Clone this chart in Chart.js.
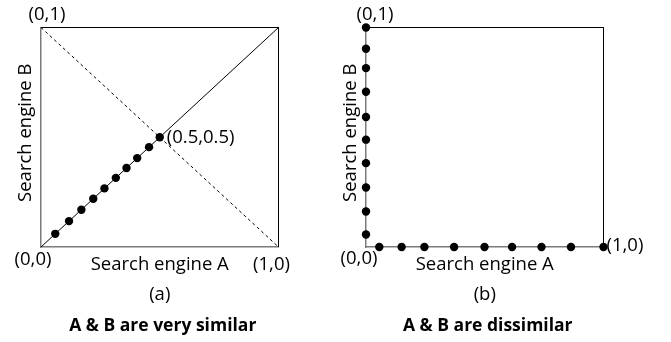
<!DOCTYPE html>
<html>
<head>
<meta charset="utf-8">
<script src="https://cdn.jsdelivr.net/npm/chart.js@4/dist/chart.umd.min.js"></script>
<style>
  html, body { margin: 0; padding: 0; background: #fff; }
  #wrap { position: relative; width: 671px; height: 342px; overflow: hidden; }
  canvas { position: absolute; top: 0; }
</style>
</head>
<body>
<div id="wrap">
  <canvas id="chartA" width="330" height="342" style="left:0"></canvas>
  <canvas id="chartB" width="341" height="342" style="left:330px"></canvas>
</div>
<script>
// Panel (a): both engines give matching scores, so points lie on the diagonal
const similarA = [0.06, 0.118, 0.17, 0.22, 0.267, 0.315, 0.36, 0.405, 0.455, 0.5];
const similarB = [0.06, 0.118, 0.17, 0.22, 0.267, 0.315, 0.36, 0.405, 0.455, 0.5];

// Panel (b): each engine scores what the other ignores, so points lie on the axes
const onAxisB = [1.0, 0.903, 0.815, 0.707, 0.592, 0.489, 0.382, 0.271, 0.162, 0.057]; // engine A = 0
const onAxisA = [0.056, 0.15, 0.246, 0.371, 0.499, 0.615, 0.739, 0.863, 1.0];         // engine B = 0

// Frame and reference lines (unit square corners)
const frameTopRight = [[0, 1], [1, 1], [1, 0]];
const agreeLine = [[0, 0], [1, 1]];
const oppositeLine = [[0, 1], [1, 0]];

// Text
const xTitle = 'Search engine A';
const yTitle = 'Search engine B';
const panelTags = ['(a)', '(b)'];
const panelCaptions = ['A & B are very similar', 'A & B are dissimilar'];
const cornerLabelsA = [
  { at: [0, 1], text: '(0,1)', dx: 6, dy: -13, align: 'center' },
  { at: [0, 0], text: '(0,0)', dx: -8, dy: 13, align: 'center' },
  { at: [1, 0], text: '(1,0)', dx: -7, dy: 18, align: 'center' },
  { at: [0.5, 0.5], text: '(0.5,0.5)', dx: 7, dy: 0, align: 'left' }
];
const cornerLabelsB = [
  { at: [0, 1], text: '(0,1)', dx: 9, dy: -13, align: 'center' },
  { at: [0, 0], text: '(0,0)', dx: -7, dy: 12, align: 'center' },
  { at: [1, 0], text: '(1,0)', dx: 3, dy: -1, align: 'left' }
];

const FONT = '"Open Sans", Lato, sans-serif';
const toXY = pairs => pairs.map(([x, y]) => ({ x, y }));

function annotate(labels, tag, caption) {
  return {
    id: 'annotate',
    afterDraw(chart) {
      const { ctx, chartArea: a, scales: { x, y } } = chart;
      ctx.save();
      ctx.fillStyle = '#000';
      ctx.textBaseline = 'middle';
      ctx.font = '18.5px ' + FONT;
      labels.forEach(l => {
        ctx.textAlign = l.align;
        ctx.fillText(l.text, x.getPixelForValue(l.at[0]) + l.dx, y.getPixelForValue(l.at[1]) + l.dy);
      });
      const cx = (a.left + a.right) / 2;
      ctx.textAlign = 'center';
      ctx.fillText(xTitle, cx, a.bottom + 18);
      ctx.fillText(tag, cx, a.bottom + 48);
      ctx.font = 'bold 17.5px ' + FONT;
      ctx.fillText(caption, cx + 3, a.bottom + 79);
      ctx.font = '18.5px ' + FONT;
      ctx.translate(a.left - 15, (a.top + a.bottom) / 2 - 4.5);
      ctx.rotate(-Math.PI / 2);
      ctx.fillText(yTitle, 0, 0);
      ctx.restore();
    }
  };
}

function axisOptions() {
  return {
    type: 'linear', min: 0, max: 1,
    grid: { display: false, drawTicks: false },
    ticks: { display: false },
    border: { display: true, color: '#7a7a7a', width: 1.5 }
  };
}

function baseOptions(padding) {
  return {
    responsive: false,
    animation: false,
    layout: { padding, autoPadding: false },
    plugins: { legend: { display: false }, tooltip: { enabled: false } },
    scales: { x: axisOptions(), y: axisOptions() }
  };
}

const dotStyle = { type: 'scatter', pointRadius: 4.2, pointBackgroundColor: '#000', pointBorderWidth: 0, showLine: false, clip: false };
const lineStyle = { type: 'line', borderColor: '#000', borderWidth: 1, pointRadius: 0, fill: false, clip: false };

new Chart(document.getElementById('chartA'), {
  type: 'scatter',
  data: {
    datasets: [
      { ...dotStyle, data: similarA.map((v, i) => ({ x: v, y: similarB[i] })) },
      { ...lineStyle, data: toXY(agreeLine) },
      { ...lineStyle, data: toXY(oppositeLine), borderDash: [3, 3] },
      { ...lineStyle, data: toXY(frameTopRight) }
    ]
  },
  options: baseOptions({ left: 41, top: 27.5, right: 51.5, bottom: 95 }),
  plugins: [annotate(cornerLabelsA, panelTags[0], panelCaptions[0])]
});

new Chart(document.getElementById('chartB'), {
  type: 'scatter',
  data: {
    datasets: [
      { ...dotStyle, data: onAxisB.map(v => ({ x: 0, y: v })) },
      { ...dotStyle, data: onAxisA.map(v => ({ x: v, y: 0 })) },
      { ...lineStyle, data: toXY(frameTopRight) }
    ]
  },
  options: baseOptions({ left: 36, top: 27.5, right: 67.5, bottom: 95 }),
  plugins: [annotate(cornerLabelsB, panelTags[1], panelCaptions[1])]
});
</script>
</body>
</html>
